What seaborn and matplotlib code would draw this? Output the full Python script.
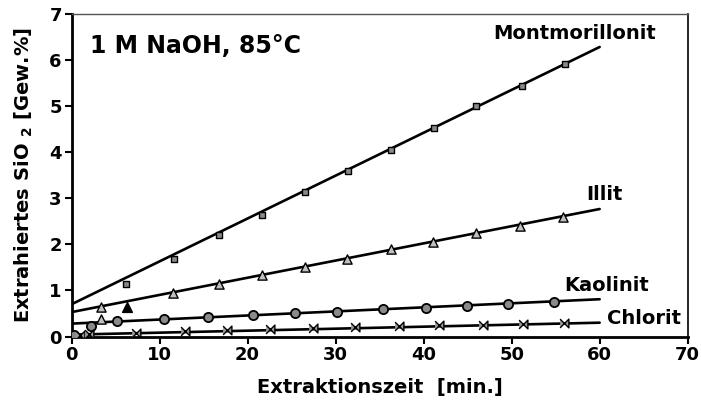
import matplotlib
matplotlib.use("Agg")
import matplotlib.pyplot as plt
import numpy as np
import pandas as pd
import seaborn as sns

# Extraction time [min] and extracted SiO2 [wt.%] per clay mineral
mont_t = [6.2, 11.6, 16.7, 21.6, 26.5, 31.4, 36.3, 41.2, 46.0, 51.2, 56.1]
mont_y = [1.13, 1.68, 2.21, 2.64, 3.14, 3.60, 4.05, 4.54, 5.00, 5.45, 5.93]

illit_t = [3.4, 3.4, 11.5, 16.7, 21.6, 26.5, 31.3, 36.3, 41.1, 45.9, 51.0, 55.8]
illit_y = [0.64, 0.38, 0.94, 1.13, 1.34, 1.52, 1.69, 1.90, 2.06, 2.24, 2.40, 2.60]
illit_solid_t = [6.3]
illit_solid_y = [0.64]

kaol_t = [0.3, 2.2, 5.2, 10.5, 15.5, 20.6, 25.4, 30.2, 35.4, 40.3, 44.9, 49.6, 54.8]
kaol_y = [0.04, 0.22, 0.33, 0.37, 0.42, 0.46, 0.51, 0.54, 0.60, 0.61, 0.67, 0.71, 0.76]

chlor_t = [1.0, 2.0, 7.3, 12.9, 17.7, 22.6, 27.4, 32.2, 37.2, 41.8, 46.7, 51.3, 56.0]
chlor_y = [0.03, 0.05, 0.07, 0.11, 0.15, 0.17, 0.19, 0.21, 0.23, 0.24, 0.26, 0.28, 0.30]

# Linear fits (start / end of each regression line)
fit_t = [0, 60]
mont_fit = [0.70, 6.29]
illit_fit = [0.53, 2.77]
kaol_fit = [0.28, 0.81]
chlor_fit = [0.04, 0.30]

labels = ["Montmorillonit", "Illit", "Kaolinit", "Chlorit"]
x_ticks = [0, 10, 20, 30, 40, 50, 60, 70]
y_ticks = [0, 1, 2, 3, 4, 5, 6, 7]

sns.set_style("ticks")
plt.rcParams["font.family"] = ["DejaVu Sans"]
plt.rcParams["font.weight"] = "bold"
plt.rcParams["mathtext.fontset"] = "custom"
plt.rcParams["mathtext.rm"] = "DejaVu Sans:bold"
plt.rcParams["mathtext.bf"] = "DejaVu Sans:bold"
for key in ["text.color", "axes.labelcolor", "xtick.color", "ytick.color",
            "axes.edgecolor"]:
    plt.rcParams[key] = "black"

fig = plt.figure(figsize=(7.01, 4.03), dpi=100)
ax = fig.add_axes([0.102, 0.165, 0.879, 0.7995])

line_kw = dict(color="black", linewidth=1.9, legend=False, ax=ax)
for fit in [mont_fit, illit_fit, kaol_fit, chlor_fit]:
    sns.lineplot(x=fit_t, y=fit, **line_kw)

bowtie = [(-1, -1), (1, 1), (1, -1), (-1, 1)]
sns.scatterplot(x=mont_t, y=mont_y, marker="s", s=20, color="#8a8a8a",
                edgecolor="black", linewidth=1.0, ax=ax, zorder=3)
sns.scatterplot(x=illit_t, y=illit_y, marker="^", s=44, color="#c0c0c0",
                edgecolor="black", linewidth=1.0, ax=ax, zorder=3)
sns.scatterplot(x=illit_solid_t, y=illit_solid_y, marker="^", s=50, color="black",
                edgecolor="black", linewidth=1.0, ax=ax, zorder=3)
sns.scatterplot(x=kaol_t, y=kaol_y, marker="o", s=44, color="#8a8a8a",
                edgecolor="black", linewidth=1.3, ax=ax, zorder=3)
sns.scatterplot(x=chlor_t, y=chlor_y, marker=bowtie, s=40, color="#9a9a9a",
                edgecolor="black", linewidth=1.0, ax=ax, zorder=3)

ax.set_xlim(0, 70)
ax.set_ylim(0, 7)
ax.set_xticks(x_ticks)
ax.set_yticks(y_ticks)
ax.tick_params(axis="both", direction="out", length=5, width=1.5,
               labelsize=13, pad=2, colors="black")
for lab in ax.get_xticklabels() + ax.get_yticklabels():
    lab.set_fontweight("bold")

for side in ["left", "bottom"]:
    ax.spines[side].set_linewidth(2.0)
ax.spines["top"].set_linewidth(1.0)
ax.spines["top"].set_color("#555555")
ax.spines["right"].set_linewidth(1.2)

ax.set_xlabel("Extraktionszeit  [min.]", fontsize=14, fontweight="bold", labelpad=10)
ax.set_ylabel(r"Extrahiertes SiO $_{2}$ [Gew.%]", fontsize=14, fontweight="bold",
              labelpad=10)

ax.text(2.1, 6.32, "1 M NaOH, 85°C", fontsize=17, fontweight="bold",
        ha="left", va="center")
label_pos = [(57.2, 6.58), (60.6, 3.08), (60.8, 1.10), (65.0, 0.40)]
for name, (lx, ly) in zip(labels, label_pos):
    ax.text(lx, ly, name, fontsize=14, fontweight="bold", ha="center", va="center")

fig.savefig("out.png", dpi=100)
